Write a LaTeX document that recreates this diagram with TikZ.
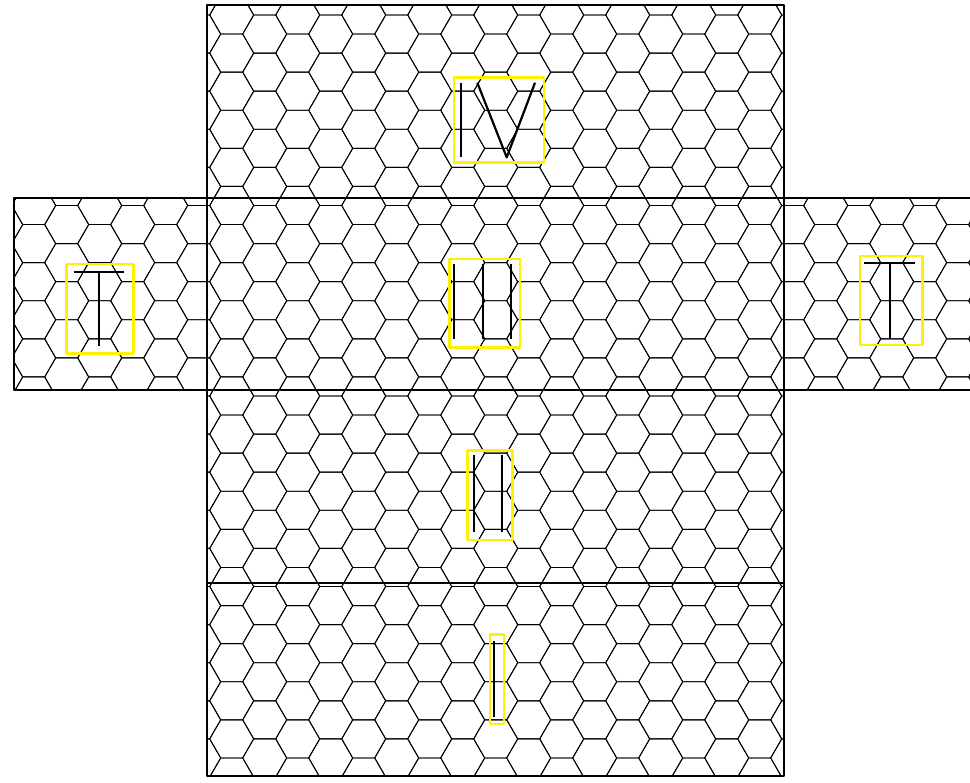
\documentclass[tikz,border=0pt]{standalone}
\tikzset{
  hexline/.style={line width=0.9pt, black},
  faceline/.style={line width=2pt, black},
  markbox/.style={line width=2.6pt, yellow},
  glyph/.style={line width=2.2pt, black, line cap=butt}
}
\begin{document}
\begin{tikzpicture}[x=1pt, y=-1pt, line join=round]
  \useasboundingbox (0,0) rectangle (970,783);
  % hexagonal tiling, side 22, clipped to the unfolded box
  \begin{scope}
    \clip (207,5.5) rectangle (783.5,775.5) (14,198.3) rectangle (976.5,390.3);
    \foreach \k in {0,...,31} {
      \foreach \j in {-1,...,20} {
        \pgfmathsetmacro\cx{-32.3+33*\k}
        \pgfmathsetmacro\cy{15+19.05*mod(\k,2)+38.1*\j}
        \draw[hexline] (\cx,\cy) +(22,0) -- +(11,19.05) -- +(-11,19.05)
          -- +(-22,0) -- +(-11,-19.05) -- +(11,-19.05) -- cycle;
      }
    }
  \end{scope}
  % faces of the net
  \foreach \y/\h in {5.5/192.8,198.3/192,390.3/193,583.3/192.2}
    \draw[faceline] (207,\y) rectangle +(576.5,\h);
  \draw[faceline] (14,198.3) rectangle (207,390.3);
  \draw[faceline] (783.5,198.3) rectangle (976.5,390.3);
  % top face: IV
  \draw[markbox] (454,77.3) rectangle (544,162.7);
  \draw[glyph] (460.7,82.7) -- (460.7,157.3);
  \draw[glyph] (477.3,82.7) -- (506.7,157.3) -- (535,82.7);
  % left face: T
  \draw[markbox] (66.7,264) rectangle (133.3,353.3);
  \draw[glyph] (74,271.7) -- (124,271.7);
  \draw[glyph] (99,271.7) -- (99,345.7);
  % middle face: III
  \draw[markbox] (449.3,259) rectangle (520,347.7);
  \foreach \x in {454.3,483.3,511}
    \draw[glyph] (\x,264) -- (\x,339.3);
  % right face: T
  \draw[markbox] (860,256) rectangle (922.3,345);
  \draw[glyph] (864,262.7) -- (915,262.7);
  \draw[glyph] (890,262.7) -- (890,337.7);
  % lower face: II
  \draw[markbox] (467.3,450.7) rectangle (512.3,540);
  \foreach \x in {474,502.3}
    \draw[glyph] (\x,455) -- (\x,531.7);
  % bottom face: I
  \draw[markbox] (490,634.3) rectangle (504,724);
  \draw[glyph] (494.3,640.7) -- (494.3,716.7);
\end{tikzpicture}
\end{document}
